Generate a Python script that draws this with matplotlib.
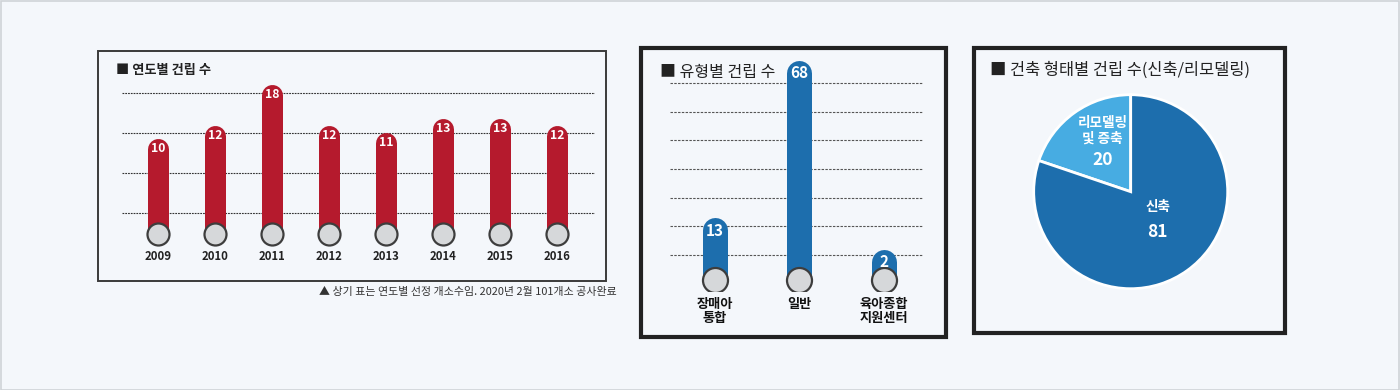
import matplotlib

matplotlib.use("Agg")
import matplotlib.pyplot as plt
from matplotlib.patches import Rectangle

W, H = 1400, 390

# data
years = ["2009", "2010", "2011", "2012", "2013", "2014", "2015", "2016"]
year_counts = [10, 12, 18, 12, 11, 13, 13, 12]
types = ["장매아\n통합", "일반", "육아종합\n지원센터"]
type_counts = [13, 68, 2]
forms = ["리모델링\n및 증축", "신축"]
form_counts = [20, 81]

KR = ["Noto Sans CJK KR", "DejaVu Sans"]
NUM = ["Noto Sans CJK KR", "DejaVu Sans"]
BG = "#f4f7fb"
RED = "#b51a2d"
BLUE = "#1d6ead"
LIGHT = "#47ace2"


def box(x0, y0, x1, y1):
    """pixel box (origin top-left) -> figure fraction rect"""
    return [x0 / W, 1 - y1 / H, (x1 - x0) / W, (y1 - y0) / H]


def frame(x0, y0, x1, y1, lw, color):
    fig.add_artist(Rectangle((x0 / W, 1 - y1 / H), (x1 - x0) / W, (y1 - y0) / H,
                             transform=fig.transFigure, fill=False,
                             lw=lw, ec=color, zorder=0))


def bar_axes(pbox, first_px, step_px, zero_py, ppu):
    x0, y0, x1, y1 = pbox
    ax = fig.add_axes(box(*pbox))
    ax.set_xlim((x0 - first_px) / step_px, (x1 - first_px) / step_px)
    ax.set_ylim((zero_py - y1) / ppu, (zero_py - y0) / ppu)
    ax.patch.set_alpha(0)
    for s in ax.spines.values():
        s.set_visible(False)
    ax.set_yticks([])
    return ax


def capsules(ax, values, base, width_px, ppu, color, circ_px, fsize, off_px):
    # rounded bars: thick line with round caps, grey knob at the foot
    r = width_px / 2 / ppu
    for i, v in enumerate(values):
        ax.plot([i, i], [base, v - r], color=color, lw=width_px * 0.72,
                solid_capstyle="round", zorder=2)
        ax.text(i, v - off_px / ppu, str(v), color="white", fontsize=fsize,
                fontweight="bold", family=NUM, ha="center", va="center", zorder=4)
    ax.scatter(range(len(values)), [base] * len(values), s=(circ_px * 0.72) ** 2,
               c="#d6d8da", edgecolors="#3d3d3d", linewidths=1.6, zorder=3)


fig = plt.figure(figsize=(W / 100, H / 100), dpi=100)
fig.patch.set_facecolor(BG)
fig.add_artist(Rectangle((0.5 / W, 0.5 / H), (W - 1.5) / W, (H - 1.5) / H,
                         transform=fig.transFigure, fill=False, lw=1.2,
                         ec="#cfd3d7"))

# ---- panel 1: yearly counts
frame(98, 51, 606, 281, 1.4, "#3a3a3a")
fig.text(116 / W, 1 - 70 / H, "■ 연도별 건립 수", family=KR, fontsize=9.5,
         fontweight="bold", color="#222", va="center")
ppu1, zero1 = 6.76, 206.5
ax1 = bar_axes((122, 60, 595, 249), 158, 57, zero1, ppu1)
for py in [93, 133, 173, 213]:
    ax1.axhline((zero1 - py) / ppu1, color="#333", lw=0.8, ls=(0, (1.6, 0.9)), zorder=1)
capsules(ax1, year_counts, (zero1 - 234) / ppu1, 21, ppu1, RED, 22, 8.8, 10)
ax1.set_xticks(range(len(years)), years)
ax1.tick_params(axis="x", length=0, pad=1)
for t in ax1.get_xticklabels():
    t.set_family(NUM)
    t.set_fontweight("bold")
    t.set_fontsize(8.2)
    t.set_color("#222")
fig.text(617 / W, 1 - 292 / H, "▲ 상기 표는 연도별 선정 개소수임. 2020년 2월 101개소 공사완료",
         family=KR, fontsize=7.9, color="#333", ha="right", va="center")

# ---- panel 2: by type
frame(641, 48, 946, 337, 3, "#222")
fig.text(660 / W, 1 - 72 / H, "■ 유형별 건립 수", family=KR, fontsize=11.5,
         fontweight="medium", color="#222", va="center")
ppu2, zero2 = 2.867, 255
ax2 = bar_axes((670, 55, 923, 291), 715, 84.3, zero2, ppu2)
for v in range(0, 70, 10):
    ax2.axhline(v, color="#555", lw=0.8, ls=(0, (2.2, 1.2)), zorder=1)
capsules(ax2, type_counts, (zero2 - 280) / ppu2, 25, ppu2, BLUE, 25, 11, 13)
ax2.set_xticks(range(len(types)), types)
ax2.tick_params(axis="x", length=0, pad=4)
for t in ax2.get_xticklabels():
    t.set_family(KR)
    t.set_fontweight("bold")
    t.set_fontsize(9.5)
    t.set_linespacing(1.05)
    t.set_color("#111")

# ---- panel 3: new build vs remodel
frame(974, 48, 1285, 333, 3, "#222")
fig.text(990 / W, 1 - 70 / H, "■ 건축 형태별 건립 수(신축/리모델링)", family=KR,
         fontsize=11.8, fontweight="medium", color="#222", va="center")
cx, cy = 1130.7, 191.7
ax3 = fig.add_axes(box(cx - 100, cy - 100, cx + 100, cy + 100))
ax3.pie(form_counts, colors=[LIGHT, BLUE], startangle=90, counterclock=True,
        radius=0.97, wedgeprops=dict(edgecolor="white", linewidth=2))
ax3.set_xlim(-1, 1)
ax3.set_ylim(-1, 1)
ax3.set_aspect("equal")
ax3.axis("off")
label_pos = [(-0.28, 0.61, 0.32), (0.27, -0.15, -0.40)]
for name, val, (lx, ly, vy) in zip(forms, form_counts, label_pos):
    ax3.text(lx, ly, name, color="white", family=KR, fontsize=9.8,
             fontweight="bold", ha="center", va="center", linespacing=1.1)
    ax3.text(lx, vy, str(val), color="white", family=NUM, fontsize=12.5,
             fontweight="bold", ha="center", va="center")

fig.savefig("out.png", dpi=100, facecolor=BG)
